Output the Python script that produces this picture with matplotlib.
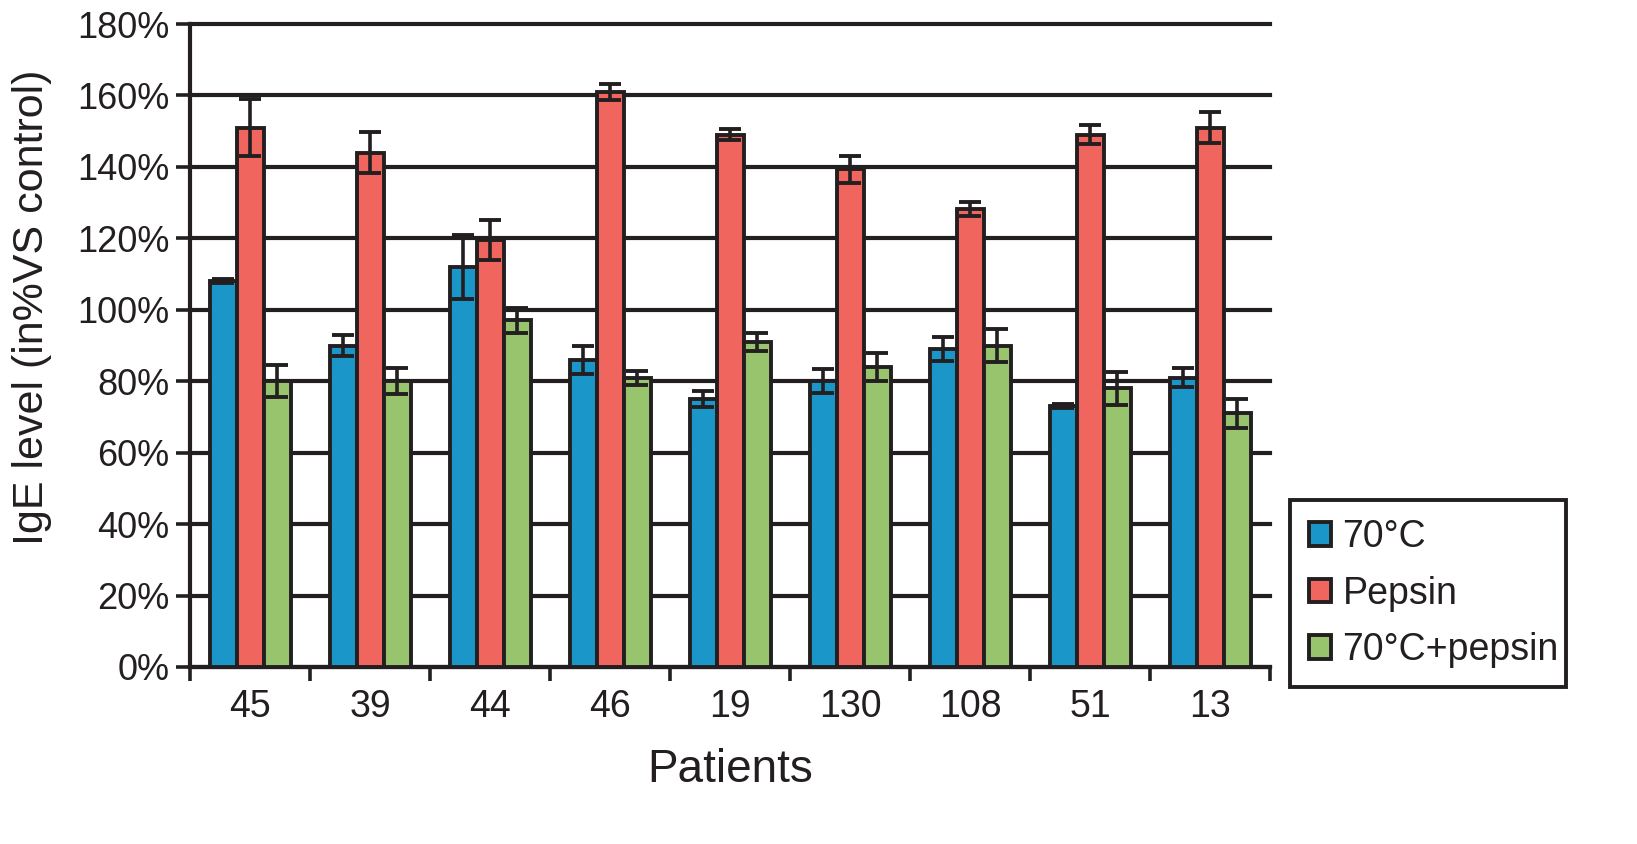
import matplotlib
matplotlib.use("Agg")
import matplotlib.pyplot as plt
import numpy as np
from matplotlib.ticker import FuncFormatter, FixedLocator

patients = ["45", "39", "44", "46", "19", "130", "108", "51", "13"]
series_names = ["70\u00b0C", "Pepsin", "70\u00b0C+pepsin"]
heat = [108, 90, 112, 86, 75, 80, 89, 73, 81]
heat_err = [0.6, 3, 9, 4, 2.2, 3.4, 3.4, 0.5, 2.7]
pepsin = [151, 144, 119.5, 161, 149, 139.3, 128.3, 149, 151]
pepsin_err = [8, 5.7, 5.5, 2.3, 1.6, 3.7, 2, 2.7, 4.3]
combo = [80, 80, 97, 81, 91, 84, 90, 78, 71]
combo_err = [4.5, 3.7, 3.5, 2, 2.4, 4, 4.5, 4.7, 4]
colors = ["#1a96c8", "#f0665e", "#98c46e"]
edge = "#231f20"

plt.rcParams['font.family'] = ['Liberation Sans', 'DejaVu Sans']

fig = plt.figure(figsize=(16.37, 8.44), dpi=100)
ax = fig.add_axes([190/1637, 1 - 667/844, 1080/1637, 643/844])

x = np.arange(len(patients))
w = 0.225
vals = [heat, pepsin, combo]
errs = [heat_err, pepsin_err, combo_err]
for i, (v, e) in enumerate(zip(vals, errs)):
    ax.bar(x + (i - 1) * w, v, width=w, color=colors[i], edgecolor=edge,
           linewidth=2.8, label=series_names[i], zorder=3)
    ax.errorbar(x + (i - 1) * w, v, yerr=e, fmt='none', ecolor=edge,
                elinewidth=2.6, capsize=8, capthick=2.8, zorder=4)

ax.set_xlim(-0.5, len(patients) - 0.5)
ax.set_ylim(0, 180)
ax.set_yticks(np.arange(0, 181, 20))
ax.yaxis.set_major_formatter(FuncFormatter(lambda v, p: f"{int(v)}%"))
ax.grid(axis='y', color=edge, linewidth=3, zorder=0)
ax.set_axisbelow(True)
for gl in ax.get_ygridlines():
    gl.set_clip_on(False)

ax.set_xticks(x)
ax.set_xticklabels(patients)
ax.xaxis.set_minor_locator(FixedLocator(np.arange(-0.5, len(patients), 1)))
ax.tick_params(axis='x', which='major', length=0, labelsize=27, pad=16, colors=edge)
ax.tick_params(axis='x', which='minor', length=10, width=2.6, color=edge)
ax.tick_params(axis='y', length=10, width=2.6, color=edge, labelsize=26, pad=5, labelcolor=edge)

for s in ['top', 'right']:
    ax.spines[s].set_visible(False)
for s in ['left', 'bottom']:
    ax.spines[s].set_linewidth(3)
    ax.spines[s].set_color(edge)

ax.set_xlabel("Patients", fontsize=33, color=edge)
ax.xaxis.set_label_coords(0.5, -(770 - 667) / 643)
ax.xaxis.label.set_va('center')
ax.set_ylabel("IgE level (in%VS control)", fontsize=31, color=edge)
ax.yaxis.set_label_coords(-(190 - 32) / 1080, (667 - 307) / 643)
ax.yaxis.label.set_va('center')

leg = ax.legend(loc='lower left', bbox_to_anchor=(1290/1637, 1 - 687/844, 276/1637, 215/844),
                bbox_transform=fig.transFigure, mode='expand', fontsize=27, frameon=True,
                fancybox=False, edgecolor=edge, framealpha=1, handlelength=0.6, handleheight=0.6,
                handletextpad=0.3, labelspacing=0.55, borderpad=0.5, borderaxespad=0)
leg.get_frame().set_linewidth(2.8)
for t in leg.get_texts():
    t.set_color(edge)
for p in leg.get_patches():
    p.set_linewidth(2.8)

fig.savefig("out.png", dpi=100)
